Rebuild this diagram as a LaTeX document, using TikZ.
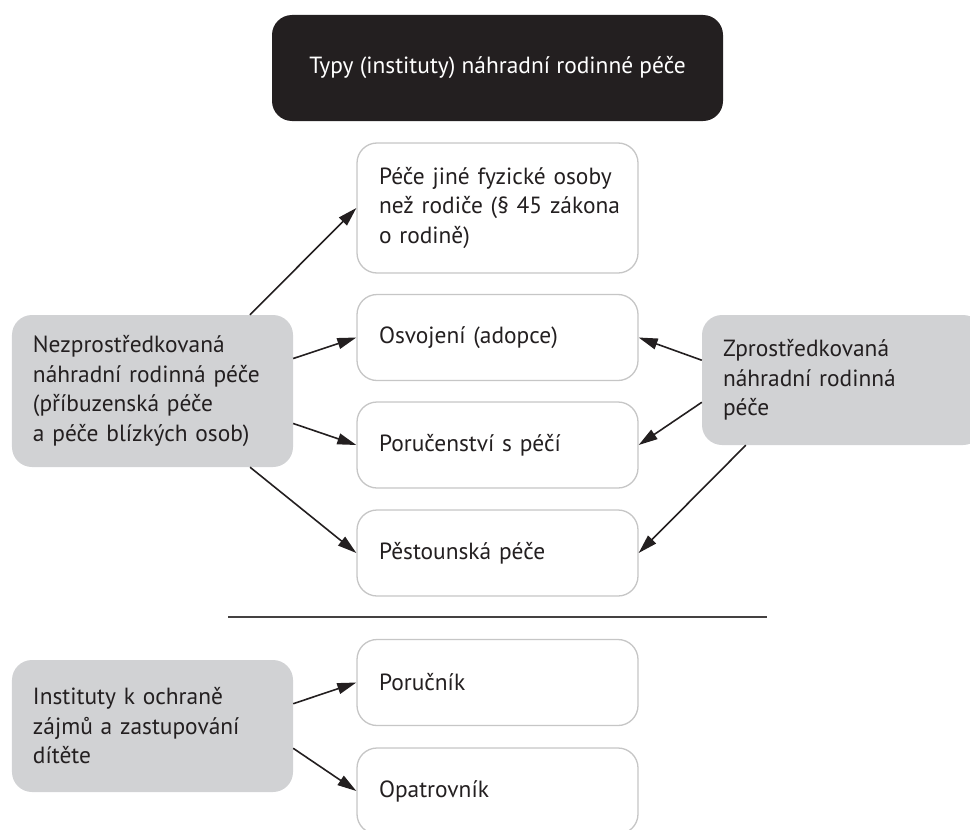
\documentclass[tikz,border=0pt]{standalone}
\usepackage{fontspec}
\setmainfont{PT Sans}
\usetikzlibrary{arrows.meta}
\definecolor{inkblack}{HTML}{231F20}
\definecolor{boxgrey}{HTML}{D1D2D4}
\definecolor{edgegrey}{HTML}{C6C6C6}
\newcommand{\boxfont}{\fontsize{23.4bp}{29.5bp}\selectfont}
\tikzstyle{heading}=[fill=inkblack, rounded corners=20bp, minimum width=451bp, minimum height=106bp, text=white, font=\boxfont]
\tikzstyle{carebox}=[draw=edgegrey, line width=1.3bp, rounded corners=20bp, fill=white, text width=237bp, inner xsep=22bp, minimum height=86bp, align=left, text=inkblack, font=\boxfont]
\tikzstyle{groupbox}=[fill=boxgrey, rounded corners=20bp, text width=239bp, inner xsep=21bp, align=left, text=inkblack, font=\boxfont]
\tikzstyle{link}=[-{Triangle[length=19bp,width=11bp]}, line width=1.6bp, draw=inkblack]

\begin{document}
\begin{tikzpicture}[x=1bp, y=-1bp]
      \useasboundingbox (0, 0) rectangle (970, 830);
      \node[heading] (title) at (497.5, 68) {Typy (instituty) náhradní rodinné péče};
      % forms of care
      \node[carebox, minimum height=130bp] (p1) at (497.5, 208) {Péče jiné fyzické osoby\\ \mbox{než rodiče (§ 45 zákona}\\ o rodině)};
      \node[carebox] (p2) at (497.5, 337.5) {Osvojení (adopce)};
      \node[carebox] (p3) at (497.5, 445) {Poručenství s péčí};
      \node[carebox] (p4) at (497.5, 553) {Pěstounská péče};
      \node[carebox] (p5) at (497.5, 682.5) {Poručník};
      \node[carebox] (p6) at (497.5, 791) {Opatrovník};
      % groups
      \node[groupbox, minimum height=152bp] (g1) at (152.5, 391) {Nezprostředkovaná\\ náhradní rodinná péče\\ (příbuzenská péče\\ a péče blízkých osob)};
      \node[groupbox, minimum height=130bp] (g2) at (842.5, 380) {Zprostředkovaná\\ náhradní rodinná\\ péče};
      \node[groupbox, minimum height=132bp] (g3) at (152.5, 726) {Instituty k ochraně\\ zájmů a zastupování\\ dítěte};
      \draw[line width=1.8bp, draw=inkblack!85] (228, 617) -- (767, 617);
      \draw[link] (g1.38) to (p1.west);
      \draw[link] (g1.13) to (p2.west);
      \draw[link] (g1.-13) to (p3.west);
      \draw[link] (g1.-38) to (p4.west);
      \draw[link] (g2.172) to (p2.east);
      \draw[link] (g2.189) to (p3.east);
      \draw[link] (g2.214) to (p4.east);
      \draw[link] (g3.9) to (p5.west);
      \draw[link] (g3.-9) to (p6.west);
    \end{tikzpicture}
\end{document}
